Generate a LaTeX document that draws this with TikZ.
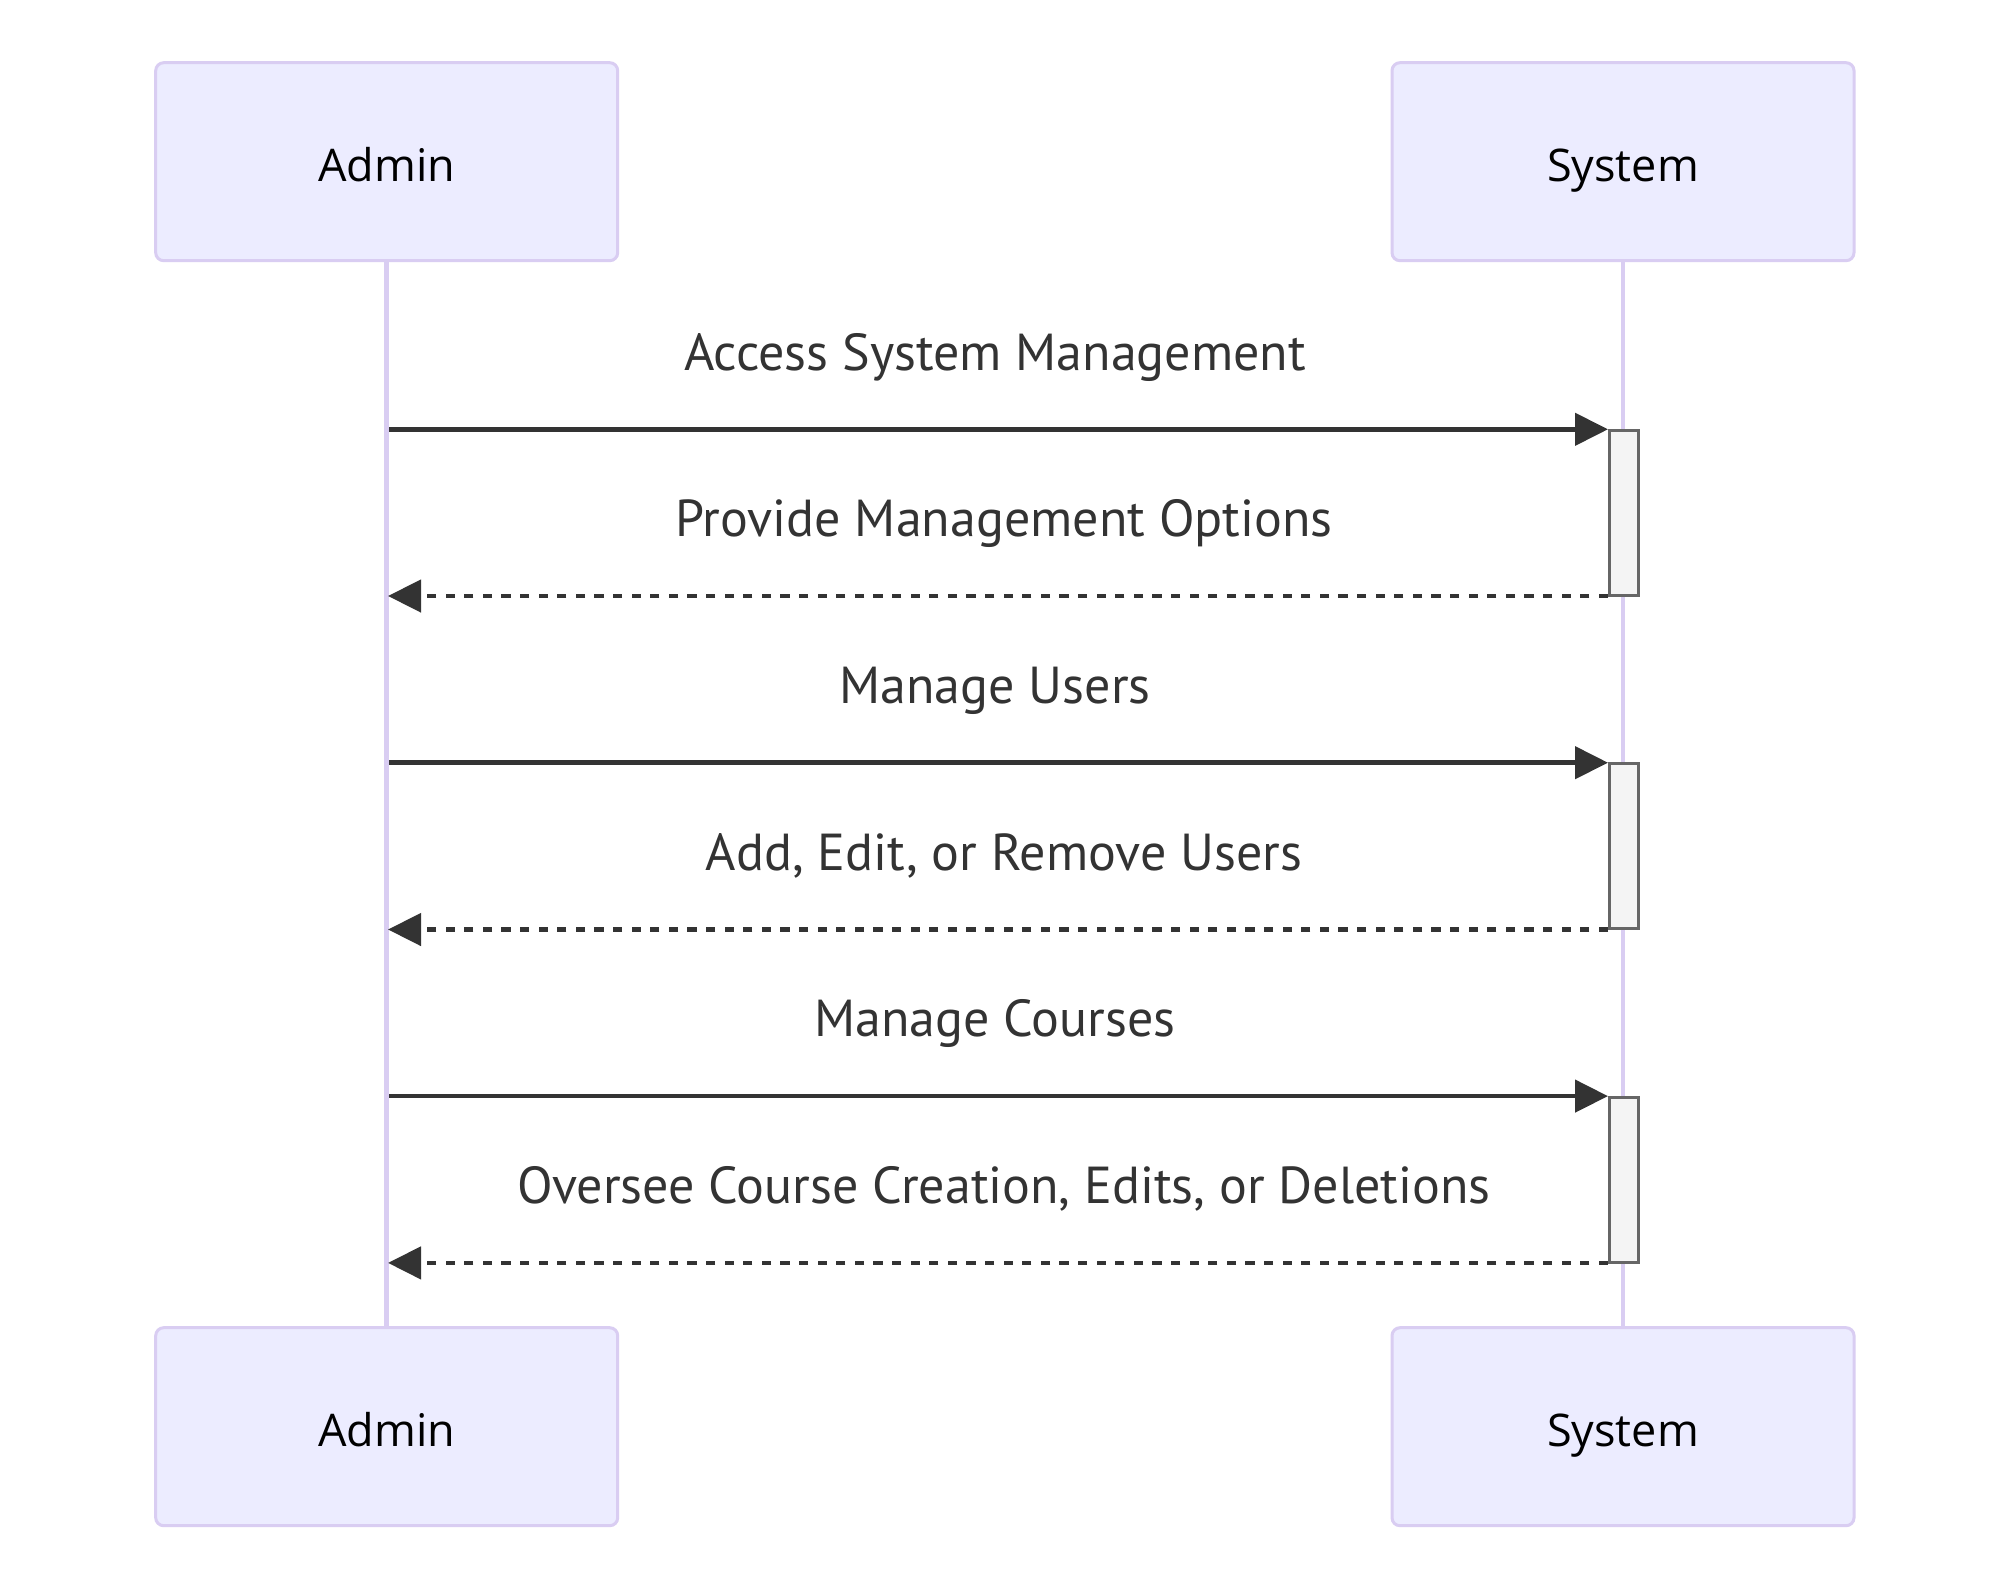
\documentclass[tikz,border=0pt]{standalone}
\usepackage{fontspec}
\setmainfont{PT Sans}
\newfontfamily\actorfont{Open Sans}
\usetikzlibrary{arrows.meta}
\definecolor{actorfill}{HTML}{ECECFF}
\definecolor{actorline}{HTML}{D9CDF2}
\definecolor{msg}{HTML}{333333}
\definecolor{actfill}{HTML}{F4F4F4}
\definecolor{actline}{HTML}{666666}
\begin{document}
\begin{tikzpicture}[x=1pt,y=-1pt,
  actor/.style={draw=actorline, fill=actorfill, line width=3pt, rounded corners=8pt,
    minimum width=462pt, minimum height=198pt, inner sep=0pt,
    text height=39pt, text depth=0pt,
    font=\actorfont\fontsize{45}{54}\selectfont, text=black},
  lifeline/.style={draw=actorline, line width=4.5pt},
  activ/.style={draw=actline, fill=actfill, line width=3pt, minimum width=29pt,
    minimum height=165pt, inner sep=0pt},
  msgline/.style={draw=msg, line width=4.6pt, -{Triangle[length=33pt,width=32pt]}},
  retline/.style={msgline, dash pattern=on 9.3pt off 9.3pt},
  lbl/.style={text=msg, font=\fontsize{52}{62}\selectfont, inner sep=0pt, anchor=base}]
\useasboundingbox (0,0) rectangle (2012,1592);
\fill[white] (0,0) rectangle (2012,1592);

% actors
\node[actor] (adminTop) at (386.7,161.7) {Admin};
\node[actor] (sysTop) at (1623,161.7) {System};
\node[actor] (adminBot) at (386.7,1426.7) {Admin};
\node[actor] (sysBot) at (1623,1426.7) {System};

% lifelines
\draw[lifeline] (adminTop.south) -- (adminBot.north);
\draw[lifeline] (sysTop.south) -- (sysBot.north);

% activations
\node[activ] (act1) at (1624,512.7) {};
\node[activ] (act2) at (1624,846.1) {};
\node[activ] (act3) at (1624,1179.5) {};

% endpoints on Admin lifeline
\coordinate (s1) at (389,429.3);
\coordinate (r1) at (388,596);
\coordinate (s2) at (389,762.7);
\coordinate (r2) at (388,929.5);
\coordinate (s3) at (389,1096.1);
\coordinate (r3) at (388,1262.9);
\coordinate (t1) at (1608,429.3);
\coordinate (u1) at (1608,596);
\coordinate (t2) at (1608,762.7);
\coordinate (u2) at (1608,929.5);
\coordinate (t3) at (1608,1096.1);
\coordinate (u3) at (1608,1262.9);

% messages
\draw[msgline] (s1) -- (t1);
\draw[retline] (u1) -- (r1);
\draw[msgline] (s2) -- (t2);
\draw[retline] (u2) -- (r2);
\draw[msgline] (s3) -- (t3);
\draw[retline] (u3) -- (r3);

% labels
\node[lbl] (m1) at (995,370) {Access System Management};
\node[lbl] (m2) at (1004,536.7) {Provide Management Options};
\node[lbl] (m3) at (995,703.4) {Manage Users};
\node[lbl] (m4) at (1004,870.2) {Add, Edit, or Remove Users};
\node[lbl] (m5) at (995,1036.8) {Manage Courses};
\node[lbl] (m6) at (1004,1203.6) {Oversee Course Creation, Edits, or Deletions};
\end{tikzpicture}
\end{document}
